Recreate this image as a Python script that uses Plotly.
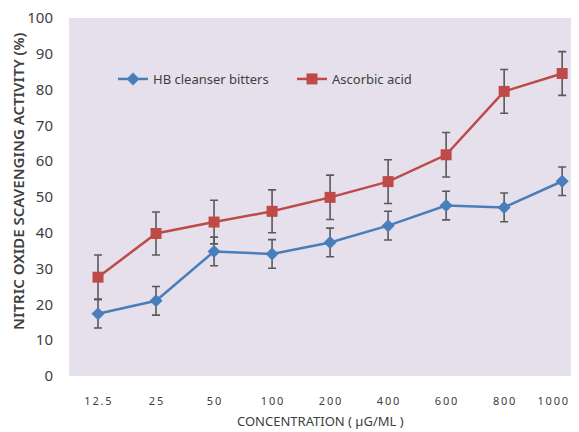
import plotly.graph_objects as go

categories = ["12.5", "25", "50", "100", "200", "400", "600", "800", "1000"]
hb_values = [17.4, 21.0, 34.8, 34.1, 37.3, 42.0, 47.6, 47.1, 54.4]
hb_errors = [4.0, 4.0, 4.0, 4.0, 4.0, 4.0, 4.0, 4.0, 4.0]
aa_values = [27.6, 39.8, 43.0, 46.0, 49.9, 54.3, 61.8, 79.5, 84.5]
aa_errors = [6.2, 6.0, 6.1, 6.0, 6.2, 6.1, 6.2, 6.1, 6.1]
y_ticks = [0, 10, 20, 30, 40, 50, 60, 70, 80, 90, 100]

# letter-spaced tick labels, as in the reference (thin spaces)
tick_text = ["\u2009".join(list(c)) for c in categories]
# the last label sits at the right edge: pad it so it stays fully visible
tick_text[-1] = tick_text[-1] + "\u2007\u2007\u2007"
font_family = "'Noto Sans', 'Liberation Sans', sans-serif"

# the page body has an 8px default margin; size the figure to fit the window
OFF = 8
W, H = 579 - OFF, 432 - OFF
# plot area in window coordinates: x 69..579, y 18..376
L, R, T = 69 - OFF, 0, 18 - OFF
B = H - (376 - OFF)

def px_x(xw):
    return (xw - OFF - L) / (W - L - R)

def px_y(yw):
    return (H - B - (yw - OFF)) / (H - T - B)

fig = go.Figure()
err_style = dict(type="data", thickness=1.6, width=4, color="#595959")
fig.add_trace(go.Scatter(
    x=categories, y=hb_values, name="HB cleanser bitters",
    mode="lines+markers",
    line=dict(color="#4A7EBB", width=2.5),
    marker=dict(symbol="diamond", size=10, color="#4A7EBB"),
    error_y=dict(array=hb_errors, **err_style),
))
fig.add_trace(go.Scatter(
    x=categories, y=aa_values, name="Ascorbic acid",
    mode="lines+markers",
    line=dict(color="#BE4B48", width=2.5),
    marker=dict(symbol="square", size=11, color="#BE4B48"),
    error_y=dict(array=aa_errors, **err_style),
))

fig.update_layout(
    width=W, height=H,
    margin=dict(l=L, r=R, t=T, b=B, autoexpand=False),
    paper_bgcolor="white",
    plot_bgcolor="#E6E0EC",
    font=dict(family=font_family, color="#404040", size=13),
    showlegend=True,
    legend=dict(
        orientation="h", x=px_x(113), y=px_y(79),
        xanchor="left", yanchor="middle",
        bgcolor="rgba(0,0,0,0)", font=dict(size=13, color="#404040"),
        traceorder="normal", entrywidth=134,
    ),
    xaxis=dict(
        type="category", range=[-0.5, 8.29], automargin=False,
        tickmode="array", tickvals=categories, ticktext=tick_text,
        showgrid=False, zeroline=False, showline=False,
        ticks="", ticklabelstandoff=17, ticklabeloverflow="allow",
        tickfont=dict(size=11, color="#404040"),
    ),
    yaxis=dict(
        range=[0, 100], tickvals=y_ticks, automargin=False,
        showgrid=False, zeroline=False, showline=False, ticks="",
        ticklabelstandoff=15, ticklabeloverflow="allow",
        tickfont=dict(size=15, color="#404040"),
    ),
    annotations=[
        dict(text="NITRIC OXIDE SCAVENGING ACTIVITY (%)",
             xref="paper", yref="paper",
             x=px_x(18), y=px_y(181),
             xanchor="center", yanchor="middle", textangle=-90,
             showarrow=False,
             font=dict(size=15, color="#404040", weight=600)),
        dict(text="CONCENTRATION ( µG/ML )",
             xref="paper", yref="paper",
             x=px_x(320), y=px_y(421),
             xanchor="center", yanchor="middle",
             showarrow=False, font=dict(size=13, color="#404040")),
    ],
)

fig.write_html("out.html")
